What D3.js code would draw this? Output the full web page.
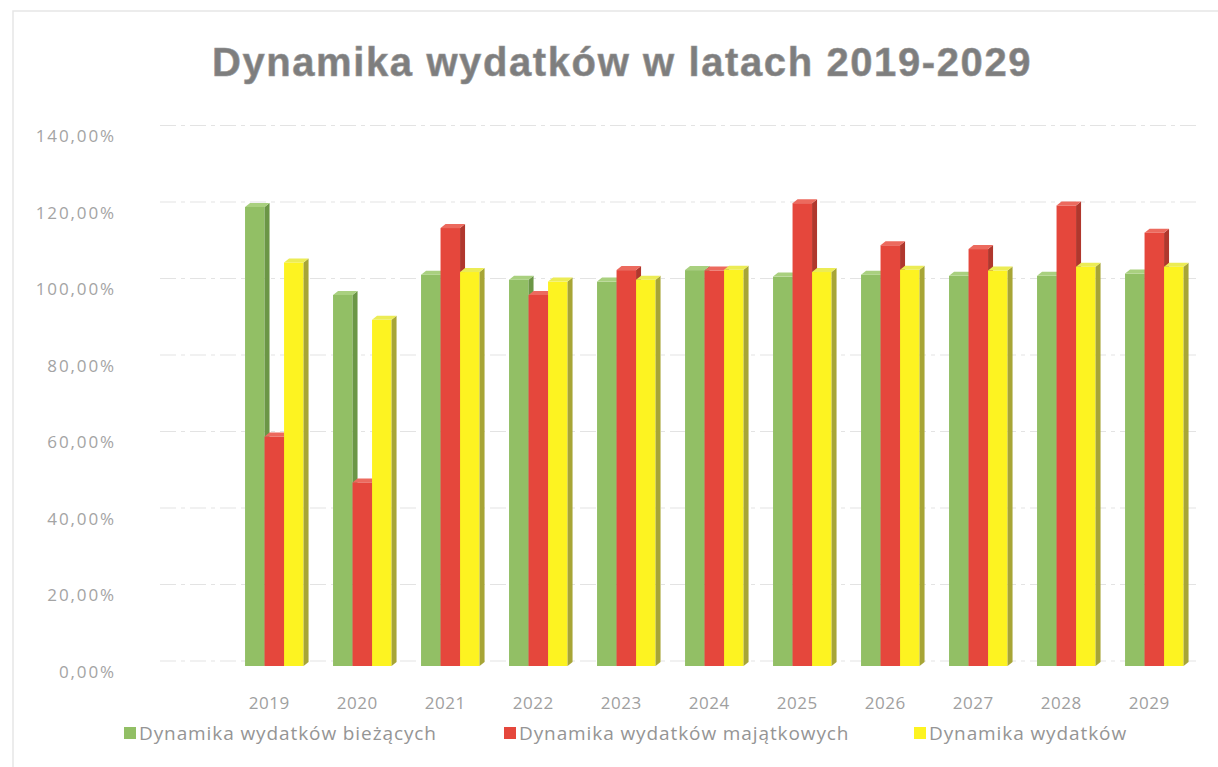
<!DOCTYPE html>
<html>
<head>
<meta charset="utf-8">
<script src="https://cdn.jsdelivr.net/npm/d3@7"></script>
<style>
  body { margin: 0; background: #fff; }
  svg { display: block; }
</style>
</head>
<body>
<svg id="chart" width="1218" height="767"></svg>
<script>
var years = ["2019", "2020", "2021", "2022", "2023", "2024", "2025", "2026", "2027", "2028", "2029"];
// values in percent
var biezace = [120.0, 97.0, 102.3, 101.0, 100.5, 103.5, 101.8, 102.3, 102.0, 102.0, 102.6];
var majatkowe = [60.0, 48.0, 114.5, 97.0, 103.5, 103.4, 121.0, 110.0, 109.0, 120.4, 113.3];
var ogolem = [105.5, 90.5, 103.0, 100.5, 101.0, 103.6, 103.0, 103.6, 103.4, 104.4, 104.4];
var seriesNames = ["Dynamika wydatków bieżących", "Dynamika wydatków majątkowych", "Dynamika wydatków"];
var yTicks = [0, 20, 40, 60, 80, 100, 120, 140];

var series = [biezace, majatkowe, ogolem];
var colors = [
    {face: "#92bf65", side: "#6b9646", top: "#a9d07f"},
    {face: "#e5473c", side: "#b0372d", top: "#ec6a5e"},
    {face: "#fdf321", side: "#a7a536", top: "#ecec55"}
];

var svg = d3.select("#chart"),
    depthX = 5,
    depthY = 4;

// faint scanned frame
svg.append("path")
    .attr("d", "M13,767 L13,11 L1218,11")
    .attr("fill", "none")
    .attr("stroke", "#e6e6e6")
    .attr("stroke-width", 1.5);

svg.append("text")
    .attr("x", 622)
    .attr("y", 76)
    .attr("text-anchor", "middle")
    .style("font-family", "'Liberation Sans', Arial, sans-serif")
    .style("font-weight", "bold")
    .style("font-size", "40px")
    .style("letter-spacing", "1.6px")
    .style("fill", "#7e7e7e")
    .style("stroke", "#9a9a9a")
    .style("stroke-width", 0.6)
    .text("Dynamika wydatków w latach 2019-2029");

var x = d3.scaleBand()
    .domain(years)
    .range([230.3, 1198.3])
    .paddingInner(0.335)
    .paddingOuter(0.1675);

var x1 = d3.scaleBand()
    .domain(d3.range(series.length))
    .range([0, x.bandwidth()]);

var y = d3.scaleLinear()
    .domain([0, 140])
    .range([666, 666 - 7 * 76.5]);

// back wall gridlines
svg.append("g")
    .selectAll("line")
    .data(yTicks)
    .enter()
    .append("line")
    .attr("x1", 160)
    .attr("x2", 1200)
    .attr("y1", function(d) { return y(d) - 5; })
    .attr("y2", function(d) { return y(d) - 5; })
    .attr("stroke", "#e3e3e3")
    .attr("stroke-width", 1)
    .attr("stroke-dasharray", "16,5,4,5");

// y labels
svg.append("g")
    .selectAll("text")
    .data(yTicks)
    .enter()
    .append("text")
    .attr("x", 116)
    .attr("y", function(d) { return y(d) + 6; })
    .attr("dy", "0.35em")
    .attr("text-anchor", "end")
    .style("font-family", "'Open Sans', sans-serif")
    .style("font-size", "17px")
    .style("letter-spacing", "1.9px")
    .style("fill", "#a4a4a4")
    .text(function(d) { return d3.format(".2f")(d).replace(".", ",") + "%"; });

// bars
var groups = svg.append("g")
    .selectAll("g")
    .data(years)
    .enter()
    .append("g")
    .attr("transform", function(d) { return "translate(" + x(d) + ",0)"; });

groups.each(function(year, i) {
    var g = d3.select(this);
    series.forEach(function(s, k) {
        var x0 = x1(k),
            w = x1.bandwidth(),
            top = y(s[i]),
            base = y(0),
            c = colors[k];
        g.append("rect")
            .attr("x", x0)
            .attr("y", top)
            .attr("width", w)
            .attr("height", base - top)
            .attr("fill", c.face);
        g.append("path")
            .attr("d", "M" + (x0 + w) + "," + top +
                " L" + (x0 + w + depthX) + "," + (top - depthY) +
                " L" + (x0 + w + depthX) + "," + (base - depthY) +
                " L" + (x0 + w) + "," + base + "Z")
            .attr("fill", c.side);
        g.append("path")
            .attr("d", "M" + x0 + "," + top +
                " L" + (x0 + depthX) + "," + (top - depthY) +
                " L" + (x0 + w + depthX) + "," + (top - depthY) +
                " L" + (x0 + w) + "," + top + "Z")
            .attr("fill", c.top);
    });
});

// year labels
svg.append("g")
    .selectAll("text")
    .data(years)
    .enter()
    .append("text")
    .attr("x", function(d) { return x(d) + x.bandwidth() / 2 - 5; })
    .attr("y", 703)
    .attr("dy", "0.35em")
    .attr("text-anchor", "middle")
    .style("font-family", "'Open Sans', sans-serif")
    .style("font-size", "17px")
    .style("letter-spacing", "0.6px")
    .style("fill", "#a0a0a0")
    .text(function(d) { return d; });

// legend
var legendX = [124, 504, 914];
var legend = svg.append("g")
    .selectAll("g")
    .data(seriesNames)
    .enter()
    .append("g")
    .attr("transform", function(d, i) { return "translate(" + legendX[i] + ",733)"; });

legend.append("rect")
    .attr("x", 0)
    .attr("y", -6)
    .attr("width", 12)
    .attr("height", 12)
    .attr("fill", function(d, i) { return colors[i].face; });

legend.append("text")
    .attr("x", 15)
    .attr("y", 0)
    .attr("dy", "0.35em")
    .style("font-family", "'Open Sans', sans-serif")
    .style("font-size", "19px")
    .style("letter-spacing", "0.9px")
    .style("fill", "#959595")
    .text(function(d) { return d; });
</script>
</body>
</html>
